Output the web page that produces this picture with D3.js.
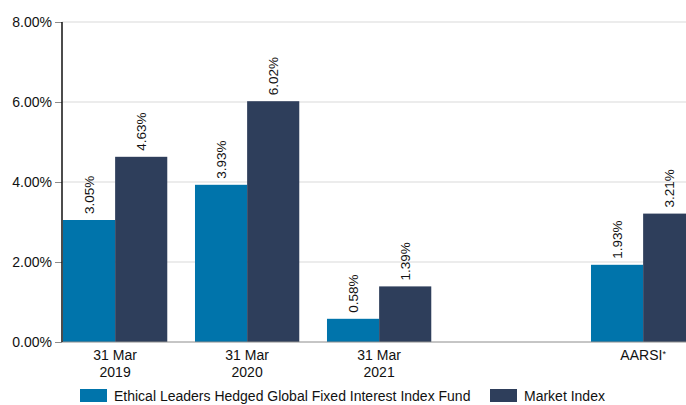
<!DOCTYPE html>
<html>
<head>
<meta charset="utf-8">
<script src="https://cdn.jsdelivr.net/npm/d3@7"></script>
<style>
  body { margin: 0; background: #fff; }
  svg { display: block; font-family: "Liberation Sans", Arial, sans-serif; }
</style>
</head>
<body>
<div id="chart"></div>
<script>
// data
const categories = ["31 Mar|2019", "31 Mar|2020", "31 Mar|2021", "", "AARSI*"];
const fundValues = [3.05, 3.93, 0.58, null, 1.93];
const marketValues = [4.63, 6.02, 1.39, null, 3.21];
const seriesNames = ["Ethical Leaders Hedged Global Fixed Interest Index Fund", "Market Index"];
const yTicks = [0, 2, 4, 6, 8];

const colors = ["#0074ab", "#2e3e5b"];

const W = 686, H = 405;
const margin = { top: 22, left: 62, bottom: 63 };
const plotH = H - margin.top - margin.bottom;

const svg = d3.select("#chart").append("svg")
  .attr("width", W)
  .attr("height", H);

const y = d3.scaleLinear().domain([0, 8]).range([margin.top + plotH, margin.top]);
const x = d3.scaleBand()
  .domain(d3.range(categories.length))
  .range([margin.left, margin.left + 132 * 4.805])
  .paddingInner(0.21)
  .paddingOuter(0.0075);
const xs = d3.scaleBand().domain([0, 1]).range([0, x.bandwidth()]);

// gridlines
svg.append("g")
  .selectAll("line")
  .data(yTicks.slice(1))
  .join("line")
  .attr("x1", margin.left)
  .attr("x2", W)
  .attr("y1", d => y(d))
  .attr("y2", d => y(d))
  .attr("stroke", "#d9d9d9")
  .attr("stroke-width", 1);

// y axis
const yAxis = svg.append("g")
  .attr("transform", `translate(${margin.left},0)`)
  .call(d3.axisLeft(y).tickValues(yTicks).tickFormat(d => d.toFixed(2) + "%").tickSize(7).tickPadding(3));
yAxis.select(".domain").remove();
yAxis.selectAll(".tick line").attr("stroke", "#8c8c8c");
yAxis.selectAll(".tick text")
  .attr("fill", "#111")
  .style("font-size", "14px")
  .style("font-family", "Liberation Sans, Arial, sans-serif");

// bars
const data = categories.map((c, i) => ({ i, vals: [fundValues[i], marketValues[i]] }));
const groups = svg.append("g")
  .selectAll("g")
  .data(data)
  .join("g")
  .attr("transform", d => `translate(${x(d.i)},0)`);

groups.selectAll("rect")
  .data(d => d.vals.map((v, k) => ({ v, k })).filter(e => e.v != null))
  .join("rect")
  .attr("x", e => xs(e.k))
  .attr("y", e => y(e.v))
  .attr("width", xs.bandwidth())
  .attr("height", e => y(0) - y(e.v))
  .attr("fill", e => colors[e.k]);

groups.selectAll("text.val")
  .data(d => d.vals.map((v, k) => ({ v, k })).filter(e => e.v != null))
  .join("text")
  .attr("class", "val")
  .attr("transform", e => `translate(${xs(e.k) + xs.bandwidth() / 2 + 5},${y(e.v) - 6}) rotate(-90)`)
  .attr("text-anchor", "start")
  .attr("fill", "#111")
  .style("font-size", "13.5px")
  .text(e => e.v.toFixed(2) + "%");

// axis lines
svg.append("line")
  .attr("x1", margin.left).attr("x2", W)
  .attr("y1", y(0)).attr("y2", y(0))
  .attr("stroke", "#8c8c8c");
svg.append("line")
  .attr("x1", margin.left).attr("x2", margin.left)
  .attr("y1", y(8)).attr("y2", y(0))
  .attr("stroke", "#111").attr("stroke-width", 1.5);

// x labels
const xl = svg.append("g")
  .selectAll("text")
  .data(categories.map((c, i) => ({ c, i })).filter(d => d.c))
  .join("text")
  .attr("x", d => x(d.i) + x.bandwidth() / 2)
  .attr("y", y(0) + 18)
  .attr("text-anchor", "middle")
  .attr("fill", "#111")
  .style("font-size", "14px");
xl.each(function(d) {
  const parts = d.c.split("|");
  parts.forEach((p, j) => {
    const t = d3.select(this).append("tspan")
      .attr("x", x(d.i) + x.bandwidth() / 2)
      .attr("dy", j === 0 ? 0 : 17);
    if (p.endsWith("*")) {
      t.text(p.slice(0, -1));
      t.append("tspan").attr("dy", -3).style("font-size", "9px").text("*");
    } else {
      t.text(p);
    }
  });
});

// legend
const legendX = [80, 490];
const legend = svg.append("g")
  .selectAll("g")
  .data(seriesNames)
  .join("g")
  .attr("transform", (d, i) => `translate(${legendX[i]},389)`);
legend.append("rect")
  .attr("width", 27).attr("height", 13)
  .attr("fill", (d, i) => colors[i]);
legend.append("text")
  .attr("x", 34).attr("y", 12)
  .attr("fill", "#111")
  .style("font-size", "14px")
  .text(d => d);
</script>
</body>
</html>
